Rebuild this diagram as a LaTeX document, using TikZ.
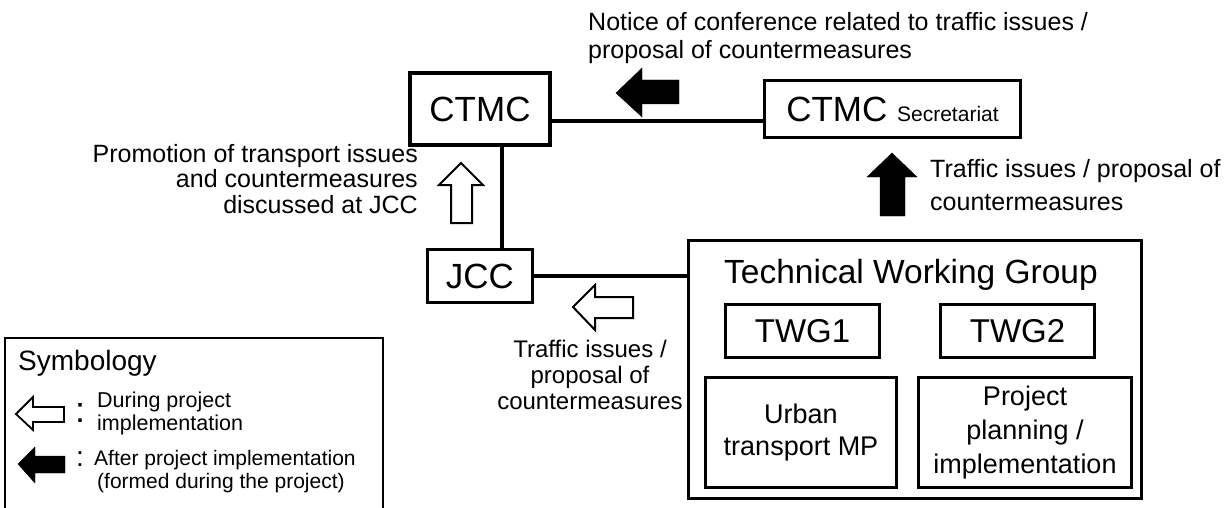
\documentclass[tikz,border=0pt]{standalone}
\usepackage{fontspec}
\setmainfont{Liberation Sans}
\newcommand\fsz[2]{\fontsize{#1}{#2}\selectfont}
\begin{document}
\begin{tikzpicture}[x=1pt,y=-1pt,
  box/.style={draw,line width=3.5pt,inner sep=0pt,align=center},
  link/.style={line width=3.5pt},
  hollowarrow/.style={draw,line width=2pt,line join=miter,fill=white},
  solidarrow/.style={fill=black},
  lbl/.style={inner sep=0pt,font=\fsz{25}{26}}]
\useasboundingbox (0,0) rectangle (1229,508);

% committee boxes
\node[box,minimum width=140,minimum height=72,font=\fsz{35}{40}] (ctmc) at (480,109) {CTMC};
\node[box,minimum width=256,minimum height=57,font=\fsz{35}{40}] (sec) at (892.5,109)
  {CTMC {\fsz{21}{24}Secretariat}};
\node[box,minimum width=105,minimum height=53,font=\fsz{35}{40}] (jcc) at (480,276) {JCC};

% technical working group
\node[box,minimum width=453,minimum height=258] (twg) at (915,369.5) {};
\node[inner sep=0pt,anchor=base,font=\fsz{33.5}{36}] (twgtitle) at (911,283) {Technical Working Group};
\node[box,minimum width=154,minimum height=53,font=\fsz{33}{36}] (twg1) at (802.5,331) {TWG1};
\node[box,minimum width=154,minimum height=53,font=\fsz{33}{36}] (twg2) at (1017.5,331) {TWG2};
\node[box,minimum width=191,minimum height=110,font=\fsz{27}{32}] (mp) at (801,432.5) {Urban\\transport MP};
\node[box,minimum width=213,minimum height=110,font=\fsz{27}{34}] (proj) at (1025,432.5) {Project\\planning /\\implementation};

% connecting lines
\draw[link] ([yshift=-12pt]ctmc.east) -- ([yshift=-12pt]sec.west);
\draw[link] ([xshift=22pt]ctmc.south) -- ([xshift=22pt]jcc.north);
\draw[link] (jcc.east) -- (jcc.east -| twg.west);

% flow arrows
\draw[solidarrow] (616,93) -- (642,68) -- (642,80) -- (679,80) -- (679,104) -- (642,104) -- (642,117) -- cycle;
\draw[solidarrow] (892,153) -- (917,177) -- (905,177) -- (905,216) -- (880,216) -- (880,177) -- (867,177) -- cycle;
\draw[hollowarrow] (461,163) -- (483,185) -- (472,185) -- (472,223) -- (451,223) -- (451,185) -- (439,185) -- cycle;
\draw[hollowarrow] (573,307) -- (595,285) -- (595,297) -- (633,297) -- (633,318) -- (595,318) -- (595,330) -- cycle;

% flow labels (multi-line nodes sit on the baseline of their last line)
\node[lbl,anchor=base west,align=left,font=\fsz{25}{28}] (notice) at (588,59)
  {Notice of conference related to traffic issues /\\proposal of countermeasures};
\node[lbl,anchor=base east,align=right,font=\fsz{25}{25.5}] (promo) at (418,213)
  {Promotion of transport issues\\and countermeasures\\discussed at JCC};
\node[lbl,anchor=base,align=center,font=\fsz{24}{26}] (jcclbl) at (590,409)
  {Traffic issues /\\proposal of\\countermeasures};
\node[lbl,anchor=base west,align=left,font=\fsz{25}{33}] (twglbl) at (930,210)
  {Traffic issues / proposal of\\countermeasures};

% symbology legend
\draw[line width=1.2pt] (5,540) |- (383,338) -- (383,540);
\node[lbl,anchor=base west,font=\fsz{28}{30}] (symtitle) at (18,370) {Symbology};
\draw[hollowarrow,line width=1.8pt] (16,414) -- (33,397) -- (33,407) -- (64,407) -- (64,422) -- (33,422) -- (33,430) -- cycle;
\node[lbl,anchor=base,font=\fsz{36}{38}] (colon1) at (80,422) {:};
\node[lbl,anchor=base west,align=left,font=\fsz{21.5}{23}] (during) at (97,430) {During project\\implementation};
\draw[solidarrow] (18,464) -- (35,447) -- (35,456) -- (65,456) -- (65,473) -- (35,473) -- (35,483) -- cycle;
\node[lbl,anchor=base,font=\fsz{28}{30}] (colon2) at (80,466) {:};
\node[lbl,anchor=base west,align=left,font=\fsz{21}{23}] (after) at (94,488) {After project implementation\\\hspace{3pt}(formed during the project)};
\end{tikzpicture}
\end{document}
